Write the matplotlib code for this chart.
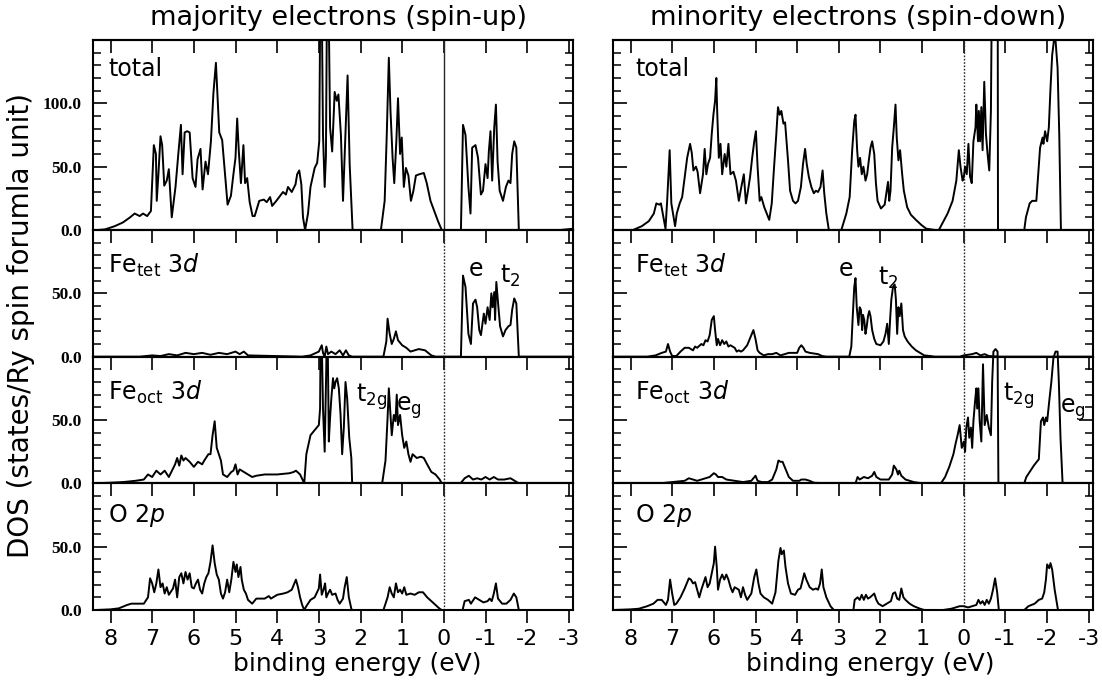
import numpy as np
import matplotlib
matplotlib.use("Agg")
import matplotlib.pyplot as plt
from matplotlib.ticker import MultipleLocator

plt.rcParams['font.family'] = ['DejaVu Sans']
plt.rcParams['axes.unicode_minus'] = False
plt.rcParams['mathtext.fontset'] = 'dejavusans'

# (binding energy in eV, DOS in states/Ry)
up_total = [(8.42,0),(8.3,0),(8.13,0.5),(7.9,3),(7.7,6),(7.53,10),(7.42,13),(7.3,11),(7.22,13),(7.12,11),(7.03,15),
    (6.99,44),(6.96,67),(6.91,60),(6.89,23),(6.85,44),(6.8,74),(6.76,67),(6.71,35),(6.65,39),(6.6,48),(6.53,10),
    (6.44,34),(6.37,61),(6.31,83),(6.27,44),(6.22,77),(6.16,78),(6.1,77),(6.03,41),(5.96,34),(5.91,56),(5.84,64),
    (5.79,32),(5.72,54),(5.66,44),(5.59,70),(5.53,108),(5.47,132),(5.43,104),(5.39,77),(5.32,71),(5.25,44),(5.19,20),
    (5.11,27),(5.05,44),(5.0,57),(4.96,88),(4.92,62),(4.87,37),(4.81,67),(4.77,37),(4.72,41),(4.66,22),(4.59,11),
    (4.54,11),(4.43,23),(4.32,24),(4.25,22),(4.17,26),(4.12,19),(4.02,23),(3.93,27),(3.86,30),(3.79,28),(3.74,34),
    (3.65,30),(3.56,36),(3.52,44),(3.47,47),(3.42,36),(3.38,10),(3.33,0),(3.26,13),(3.2,34),(3.1,49),(3.04,53),
    (2.99,70),(2.95,250),(2.9,75),(2.86,34),(2.83,58),(2.79,250),(2.73,81),(2.68,62),(2.62,109),(2.57,102),(2.53,107),
    (2.47,75),(2.42,23),(2.37,67),(2.31,122),(2.26,52),(2.19,0),(1.51,0),(1.42,23),(1.37,75),(1.32,136),(1.28,94),
    (1.23,57),(1.19,37),(1.14,70),(1.1,104),(1.05,60),(1.01,73),(0.96,34),(0.91,49),(0.85,43),(0.79,23),(0.73,31),
    (0.67,43),(0.59,44),(0.48,45),(0.41,37),(0.32,23),(0.23,15),(0.14,7),(0.05,0),(-0.41,0),(-0.46,83),(-0.52,75),
    (-0.59,34),(-0.64,13),(-0.68,65),(-0.76,67),(-0.82,57),(-0.89,28),(-0.94,31),(-1.0,52),(-1.05,41),(-1.08,62),
    (-1.12,78),(-1.16,39),(-1.21,81),(-1.25,99),(-1.29,54),(-1.34,31),(-1.42,23),(-1.49,34),(-1.55,39),(-1.6,37),
    (-1.64,60),(-1.69,70),(-1.74,65),(-1.8,0),(-2.8,0),(-3.1,1)]

up_fetet = [(8.42,0),(7.3,0),(7.0,1),(6.8,0.5),(6.6,2),(6.4,1),(6.2,3),(6.0,2),(5.8,3),(5.6,1.5),(5.4,3),(5.2,2),
    (5.0,4),(4.9,2),(4.8,4),(4.7,1),(3.4,0),(3.2,1),(3.0,4),(2.93,9),(2.9,3),(2.86,0),(2.82,8),(2.78,2),(2.7,4),
    (2.6,2),(2.5,5),(2.42,1),(2.35,5),(2.28,1),(2.2,0),(1.45,0),(1.38,12),(1.35,30),(1.3,18),(1.25,10),(1.2,14),
    (1.15,20),(1.1,13),(1.0,9),(0.9,7),(0.8,4),(0.6,6),(0.45,5),(0.3,1),(0.2,0),(-0.41,0),(-0.46,64),(-0.52,55),
    (-0.59,18),(-0.65,10),(-0.7,42),(-0.76,45),(-0.8,39),(-0.85,21),(-0.89,17),(-0.96,34),(-1.0,26),(-1.05,39),
    (-1.1,29),(-1.14,50),(-1.17,39),(-1.21,51),(-1.23,29),(-1.26,59),(-1.31,39),(-1.35,24),(-1.42,16),(-1.48,21),
    (-1.55,24),(-1.6,25),(-1.64,37),(-1.69,46),(-1.74,42),(-1.8,0),(-3.1,0)]

up_feoct = [(8.42,0),(8.0,0.5),(7.7,1),(7.4,2),(7.2,3),(7.1,7),(7.0,5),(6.9,10),(6.8,7),(6.7,10),(6.6,5),(6.45,15),
    (6.4,20),(6.35,14),(6.3,22),(6.25,18),(6.2,20),(6.1,17),(6.0,13),(5.9,17),(5.8,15),(5.75,18),(5.65,23),(5.6,23),
    (5.55,38),(5.5,49),(5.45,28),(5.4,23),(5.35,18),(5.3,7),(5.2,5),(5.1,9),(5.05,10),(5.0,15),(4.95,7),(4.9,11),
    (4.8,9),(4.7,7),(4.6,5),(4.5,6),(4.3,7),(4.0,7),(3.7,8),(3.6,9),(3.55,10),(3.45,7),(3.35,0),(3.3,23),(3.2,38),
    (3.1,42),(3.0,46),(2.97,59),(2.95,150),(2.9,59),(2.86,25),(2.82,94),(2.8,150),(2.76,33),(2.73,52),(2.7,67),
    (2.66,83),(2.63,75),(2.6,80),(2.56,83),(2.52,75),(2.48,55),(2.44,23),(2.4,44),(2.36,80),(2.32,67),(2.27,36),
    (2.22,20),(2.2,0),(1.48,0),(1.4,18),(1.35,52),(1.32,75),(1.28,54),(1.25,38),(1.2,54),(1.16,49),(1.13,70),
    (1.1,46),(1.05,54),(1.0,38),(0.95,28),(0.9,33),(0.85,23),(0.8,17),(0.75,23),(0.65,20),(0.55,21),(0.48,20),
    (0.4,15),(0.3,9),(0.2,7),(0.1,3),(0.05,0),(-0.4,0),(-0.5,4),(-0.6,6),(-0.7,3),(-0.8,4),(-0.9,3),(-1.0,5),
    (-1.1,3),(-1.2,5),(-1.3,3),(-1.45,3),(-1.6,4),(-1.7,2),(-1.8,0),(-3.1,0)]

up_o2p = [(8.42,0),(8.35,0),(8.0,0.5),(7.8,1.3),(7.6,4),(7.5,5),(7.2,5),(7.1,10),(7.05,25),(7.0,21),(6.95,14),
    (6.9,21),(6.85,32),(6.8,18),(6.75,21),(6.7,13),(6.65,18),(6.6,12),(6.5,17),(6.45,24),(6.4,10),(6.35,26),
    (6.3,29),(6.25,21),(6.2,30),(6.15,24),(6.1,29),(6.05,18),(6.0,17),(5.95,21),(5.9,24),(5.85,16),(5.8,13),
    (5.75,21),(5.7,26),(5.65,29),(5.6,38),(5.55,51),(5.5,37),(5.45,28),(5.4,24),(5.35,13),(5.3,9),(5.25,14),
    (5.2,24),(5.15,14),(5.1,24),(5.05,38),(5.0,30),(4.97,36),(4.93,26),(4.88,34),(4.85,24),(4.8,16),(4.75,13),
    (4.7,8),(4.6,5),(4.5,9),(4.3,9),(4.2,11),(4.15,9),(4.0,12),(3.85,13),(3.75,14),(3.65,16),(3.55,24),(3.5,18),
    (3.45,10),(3.4,4),(3.35,0),(3.3,3),(3.2,8),(3.1,10),(3.0,17),(2.97,28),(2.93,12),(2.88,17),(2.85,21),(2.82,10),
    (2.78,13),(2.73,16),(2.68,12),(2.6,13),(2.55,8),(2.5,5),(2.42,9),(2.38,18),(2.33,26),(2.28,10),(2.22,1),(2.2,0),
    (1.45,0),(1.35,10),(1.3,18),(1.25,13),(1.2,10),(1.15,21),(1.1,14),(1.05,16),(1.0,13),(0.95,18),(0.9,12),
    (0.8,13),(0.7,12),(0.6,14),(0.5,14),(0.4,10),(0.3,7),(0.2,4),(0.1,1),(0.05,0),(-0.45,0),(-0.5,7),(-0.6,8),
    (-0.65,5),(-0.75,10),(-0.85,8),(-0.95,6),(-1.05,7),(-1.1,9),(-1.15,7),(-1.2,13),(-1.25,21),(-1.3,9),(-1.4,5),
    (-1.5,5),(-1.6,8),(-1.68,13),(-1.74,10),(-1.8,0),(-3.1,0)]

dn_total = [(8.42,0),(7.94,0),(7.73,3),(7.56,7),(7.44,13),(7.38,21),(7.31,20),(7.27,21),(7.21,10),(7.16,1),(7.12,23),
    (7.06,63),(7.02,21),(6.93,3),(6.89,13),(6.82,21),(6.76,26),(6.71,39),(6.64,57),(6.57,68),(6.53,61),(6.49,47),
    (6.43,50),(6.39,46),(6.33,29),(6.26,44),(6.22,64),(6.18,44),(6.14,52),(6.09,57),(6.05,76),(6.01,91),(5.97,102),
    (5.94,120),(5.92,94),(5.88,57),(5.84,68),(5.8,44),(5.74,60),(5.7,50),(5.65,68),(5.6,44),(5.53,46),(5.47,39),
    (5.4,23),(5.34,34),(5.28,44),(5.23,21),(5.19,29),(5.13,42),(5.08,57),(5.03,70),(4.99,78),(4.95,50),(4.9,23),
    (4.86,26),(4.79,18),(4.73,13),(4.67,8),(4.61,21),(4.56,47),(4.5,76),(4.46,97),(4.42,91),(4.38,94),(4.33,84),
    (4.29,85),(4.22,55),(4.17,31),(4.1,23),(4.04,21),(3.98,23),(3.91,34),(3.86,52),(3.81,64),(3.77,52),(3.72,42),
    (3.66,34),(3.6,29),(3.55,31),(3.5,30),(3.44,34),(3.39,47),(3.35,29),(3.3,13),(3.24,0),(2.94,0),(2.82,13),
    (2.74,26),(2.68,63),(2.63,86),(2.6,91),(2.56,63),(2.53,50),(2.49,57),(2.45,44),(2.41,50),(2.36,39),(2.32,44),
    (2.28,55),(2.24,65),(2.2,70),(2.15,60),(2.11,37),(2.07,23),(1.99,17),(1.9,20),(1.86,29),(1.82,38),(1.79,23),
    (1.76,31),(1.72,65),(1.68,81),(1.64,99),(1.61,73),(1.57,55),(1.53,63),(1.48,44),(1.44,31),(1.36,18),(1.27,12),
    (1.15,8),(1.02,4),(0.9,1),(0.69,0),(0.6,0),(0.52,5),(0.39,13),(0.27,23),(0.18,39),(0.12,63),(0.08,50),(0.03,39),
    (0.0,42),(-0.03,50),(-0.07,44),(-0.11,68),(-0.15,42),(-0.19,37),(-0.23,70),(-0.28,81),(-0.3,99),(-0.34,70),
    (-0.36,94),(-0.39,70),(-0.42,97),(-0.45,63),(-0.49,117),(-0.53,76),(-0.57,60),(-0.61,47),(-0.65,94),(-0.69,260),
    (-0.81,260),(-0.82,0),(-1.45,0),(-1.49,10),(-1.58,21),(-1.64,23),(-1.74,23),(-1.83,65),(-1.89,73),(-1.91,68),
    (-1.95,78),(-2.0,70),(-2.04,81),(-2.08,112),(-2.12,138),(-2.16,149),(-2.2,150),(-2.25,128),(-2.29,76),(-2.33,0),
    (-3.1,0)]

dn_fetet = [(8.42,0),(7.6,0),(7.4,1),(7.25,3),(7.15,4),(7.1,10),(7.05,4),(7.0,0.5),(6.9,0.5),(6.8,4),(6.7,7),(6.6,7),
    (6.5,5),(6.45,8),(6.4,7),(6.3,10),(6.25,9),(6.2,13),(6.15,12),(6.1,17),(6.05,29),(6.0,32),(5.97,21),(5.93,9),
    (5.9,14),(5.85,9),(5.8,13),(5.75,10),(5.7,12),(5.65,8),(5.6,9),(5.55,8),(5.5,7),(5.45,4),(5.4,5),(5.35,4),
    (5.3,5),(5.25,7),(5.2,9),(5.15,13),(5.1,17),(5.05,21),(5.0,14),(4.95,5),(4.9,3),(4.8,1),(4.7,2),(4.6,2),(4.5,3),
    (4.4,1),(4.3,2),(4.2,3),(4.1,3),(4.0,3),(3.95,7),(3.9,9),(3.85,7),(3.8,4),(3.7,3),(3.5,2),(3.4,0.5),(3.3,0),
    (2.75,0),(2.7,8),(2.67,29),(2.63,55),(2.6,62),(2.57,39),(2.53,25),(2.5,39),(2.47,37),(2.44,21),(2.42,33),
    (2.39,29),(2.36,18),(2.33,24),(2.3,32),(2.27,36),(2.24,32),(2.2,21),(2.15,14),(2.1,10),(2.0,9),(1.93,12),
    (1.88,18),(1.84,26),(1.8,10),(1.77,29),(1.74,45),(1.7,55),(1.66,57),(1.63,45),(1.6,18),(1.57,39),(1.54,32),
    (1.5,42),(1.46,21),(1.42,16),(1.35,12),(1.25,8),(1.15,5),(1.05,3),(0.95,1),(0.8,0.5),(0.7,0),(0.1,0),(0.0,1),
    (-0.2,2),(-0.3,3),(-0.4,1),(-0.5,2),(-0.6,0.5),(-0.85,0),(-3.1,0)]

dn_feoct = [(8.42,0),(7.3,0),(7.0,1),(6.7,2),(6.6,4),(6.5,3),(6.4,2),(6.3,3),(6.2,4),(6.1,5),(6.0,8),(5.95,7),(5.9,5),
    (5.8,5),(5.7,3),(5.5,2),(5.3,1),(5.1,2),(5.0,6),(4.95,2),(4.85,1),(4.7,1),(4.6,3),(4.5,11),(4.45,18),(4.4,17),
    (4.35,17),(4.3,13),(4.25,9),(4.2,5),(4.1,2),(3.95,2),(3.9,3),(3.8,3),(3.7,2),(3.6,0.5),(3.3,0),(2.6,0),(2.55,5),
    (2.5,3),(2.4,5),(2.3,4),(2.2,6),(2.15,9),(2.1,5),(2.0,3),(1.9,3),(1.8,3),(1.72,7),(1.68,14),(1.62,11),(1.58,7),
    (1.55,10),(1.5,6),(1.4,3),(1.2,1),(1.0,0),(0.55,0),(0.45,5),(0.35,13),(0.25,23),(0.2,31),(0.15,38),(0.1,46),
    (0.05,28),(0.0,33),(-0.03,25),(-0.06,44),(-0.1,52),(-0.13,36),(-0.17,44),(-0.2,28),(-0.23,49),(-0.27,65),
    (-0.3,75),(-0.32,59),(-0.35,75),(-0.38,49),(-0.42,33),(-0.46,94),(-0.5,46),(-0.55,54),(-0.6,44),(-0.65,38),
    (-0.68,80),(-0.71,104),(-0.76,106),(-0.81,104),(-0.83,0),(-1.45,0),(-1.5,5),(-1.6,10),(-1.68,14),(-1.75,17),
    (-1.8,19),(-1.85,49),(-1.9,52),(-1.93,46),(-1.97,52),(-2.0,49),(-2.05,65),(-2.1,80),(-2.15,99),(-2.2,104),
    (-2.25,104),(-2.28,80),(-2.32,36),(-2.37,0),(-3.1,0)]

dn_o2p = [(8.42,0),(8.0,0.5),(7.8,1),(7.6,3),(7.45,5),(7.35,8),(7.25,8),(7.15,4),(7.1,8),(7.05,24),(7.0,13),(6.95,4),
    (6.9,5),(6.8,10),(6.7,17),(6.6,25),(6.55,24),(6.5,21),(6.45,22),(6.4,16),(6.35,10),(6.3,16),(6.2,26),(6.15,18),
    (6.1,21),(6.05,29),(6.0,37),(5.97,50),(5.93,34),(5.9,16),(5.85,24),(5.8,28),(5.75,24),(5.7,28),(5.65,24),
    (5.6,18),(5.55,14),(5.5,18),(5.4,16),(5.35,10),(5.3,18),(5.25,12),(5.2,8),(5.1,13),(5.03,26),(4.98,32),
    (4.93,21),(4.88,13),(4.8,10),(4.7,8),(4.6,5),(4.52,14),(4.45,39),(4.4,49),(4.37,44),(4.32,47),(4.28,34),
    (4.22,21),(4.15,13),(4.05,12),(3.98,16),(3.92,17),(3.88,22),(3.83,29),(3.78,24),(3.7,18),(3.62,16),(3.55,17),
    (3.5,16),(3.45,21),(3.41,32),(3.37,18),(3.3,10),(3.2,3),(3.12,0),(2.65,0),(2.62,8),(2.55,10),(2.5,8),(2.45,12),
    (2.4,8),(2.35,12),(2.3,9),(2.25,10),(2.15,13),(2.1,8),(2.05,5),(2.0,4),(1.95,3),(1.85,5),(1.75,7),(1.7,13),
    (1.65,14),(1.6,9),(1.55,8),(1.5,17),(1.45,10),(1.4,8),(1.3,5),(1.2,3),(1.05,1),(0.95,0),(0.5,0),(0.3,1),
    (0.1,3),(0.0,3),(-0.1,2),(-0.2,3),(-0.3,4),(-0.35,8),(-0.4,5),(-0.45,7),(-0.5,4),(-0.55,8),(-0.6,5),(-0.65,9),
    (-0.7,16),(-0.75,25),(-0.8,14),(-0.84,0),(-1.45,0),(-1.55,3),(-1.7,5),(-1.8,8),(-1.88,9),(-1.93,14),(-1.97,24),
    (-2.0,36),(-2.05,33),(-2.08,37),(-2.12,32),(-2.18,16),(-2.22,8),(-2.26,0),(-3.1,0)]

panel_names = ['total', r'Fe$_\mathrm{tet}$ 3$d$', r'Fe$_\mathrm{oct}$ 3$d$', r'O 2$p$']
panel_ymax = [150, 100, 100, 100]
energy_ticks = np.arange(-3, 9)

# orbital labels: (text, energy, dos) per panel index
up_marks = {1: [('e', -0.76, 64), (r't$_2$', -1.6, 58)],
            2: [(r't$_\mathrm{2g}$', 1.73, 64), (r'e$_\mathrm{g}$', 0.84, 57)]}
dn_marks = {1: [('e', 2.83, 64), (r't$_2$', 1.82, 57)],
            2: [(r't$_\mathrm{2g}$', -1.32, 65), (r'e$_\mathrm{g}$', -2.61, 56)]}

W, H = 1102, 686
fig = plt.figure(figsize=(W / 100, H / 100), dpi=100)


def draw_column(x0, x1, curves, marks, title, label_dx, show_yvals, solid_fermi):
    gs = fig.add_gridspec(4, 1, left=x0 / W, right=x1 / W, top=1 - 40 / H, bottom=1 - 610 / H,
                          hspace=0, height_ratios=panel_ymax)
    label_y = [0.845, 0.72, 0.72, 0.745]
    axes = []
    for i, data in enumerate(curves):
        ax = fig.add_subplot(gs[i])
        e, d = np.array(data).T
        ax.plot(e, d, color='k', lw=1.4)
        ax.set_xlim(8.42, -3.1)
        ax.set_ylim(0, panel_ymax[i])
        ls = '-' if (solid_fermi and i == 0) else (0, (1.2, 1.2))
        ax.axvline(0, color='0.15', lw=1.0, ls=ls, zorder=1)

        ax.set_xticks(energy_ticks)
        ax.set_xticklabels([str(t) for t in energy_ticks])
        last = (i == 3)
        ax.tick_params(axis='x', direction='out', length=9, width=1.2, top=False,
                       bottom=last, labelbottom=last, labelsize=16, pad=5)
        top_ax = ax.secondary_xaxis('top')
        top_ax.set_xticks(energy_ticks)
        top_ax.tick_params(direction='in', length=9, width=1.2, labeltop=False)
        top_ax.spines['top'].set_linewidth(1.5)

        ax.set_yticks([0, 50, 100])
        if show_yvals:
            lbls = ['0.0', '50.0', '100.0'] if i == 0 else ['0.0', '50.0', '']
            ax.set_yticklabels(lbls, fontfamily='Liberation Serif', fontweight='bold', fontsize=12.5)
        ax.yaxis.set_minor_locator(MultipleLocator(10))
        ax.tick_params(axis='y', which='major', direction='in', length=10, width=1.2,
                       left=True, right=True, labelleft=show_yvals, pad=8)
        ax.tick_params(axis='y', which='minor', direction='in', length=5.5, width=1.1,
                       left=True, right=True)
        for s in ax.spines.values():
            s.set_linewidth(1.5)

        ax.text(label_dx, label_y[i], panel_names[i], transform=ax.transAxes,
                fontsize=17, ha='left', va='center')
        for txt, ex, dy in marks.get(i, []):
            ax.text(ex, dy, txt, fontsize=17, ha='center', va='baseline')
        axes.append(ax)
    fig.text((x0 + x1) / 2 / W + 5 / W, 1 - 18 / H, title, fontsize=19.5, ha='center', va='center')
    return axes


draw_column(93, 573, [up_total, up_fetet, up_feoct, up_o2p], up_marks,
            'majority electrons (spin-up)', 0.031, True, True)
dn_axes = draw_column(613, 1093, [dn_total, dn_fetet, dn_feoct, dn_o2p], dn_marks,
                      'minority electrons (spin-down)', 0.046, False, False)
# the minority Fe_oct peaks slightly overshoot the panel top
dn_axes[2].lines[0].set_clip_on(False)

fig.text(357 / W, 1 - 664 / H, 'binding energy (eV)', fontsize=18, ha='center', va='center')
fig.text(870 / W, 1 - 664 / H, 'binding energy (eV)', fontsize=18, ha='center', va='center')
fig.text(21 / W, 1 - 326 / H, 'DOS (states/Ry spin forumla unit)', fontsize=20, rotation=90,
         ha='center', va='center')

fig.savefig('out.png', dpi=100)
